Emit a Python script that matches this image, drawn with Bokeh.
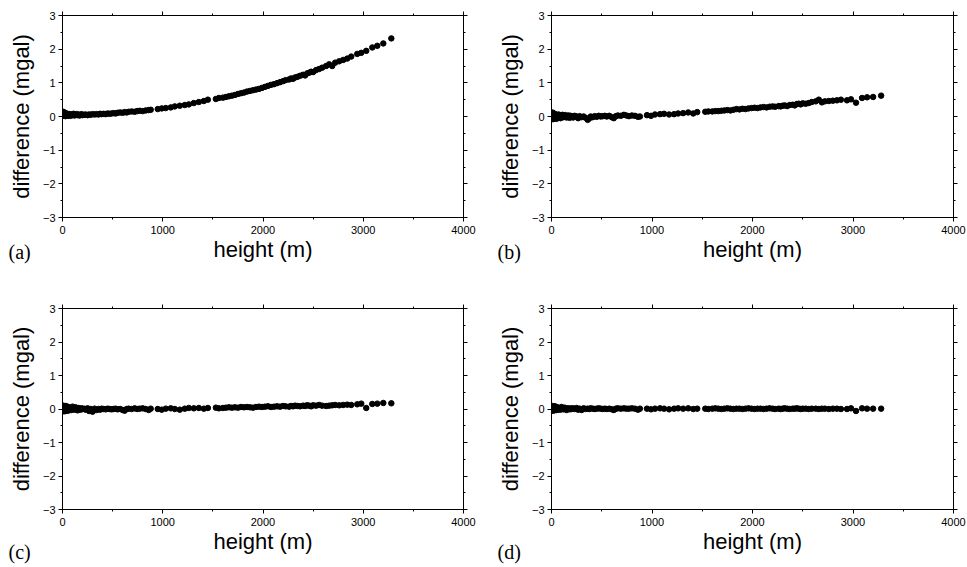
from bokeh.plotting import figure
from bokeh.layouts import column, row
from bokeh.models import LinearAxis, SingleIntervalTicker, Title, ColumnDataSource
from bokeh.embed import file_html
from bokeh.resources import INLINE

# station heights (m), shared by all panels
height_m = [5, 8, 10, 12, 15, 18, 20, 22, 25, 28, 30, 35, 40, 45, 50, 55, 60, 65, 70, 80,
            90, 100, 110, 120, 130, 140, 150, 160, 170, 180, 190, 200,
            215, 230, 250, 265, 280, 300, 320, 340, 360, 375, 390, 410, 430, 450, 470, 490,
            510, 530, 550, 575, 600, 620, 640, 660, 690, 720, 745, 770, 800, 830, 860, 880,
            950, 990, 1030, 1080, 1120, 1170, 1220, 1260, 1310, 1360, 1410, 1450,
            1530, 1560, 1600, 1630, 1660, 1690, 1720, 1750, 1780, 1810, 1840, 1870, 1900,
            1930, 1960, 1990, 2020, 2050, 2080, 2110, 2140, 2170, 2200, 2225,
            2260, 2280, 2300, 2320, 2345, 2370, 2400, 2420, 2440, 2460, 2480, 2500, 2530, 2560, 2590,
            2630, 2660, 2690, 2720, 2760, 2800, 2840, 2880,
            2940, 2980, 3030, 3090, 3140, 3200, 3280]

diff_a = [0.10, 0.14, 0.05, 0.12, 0.02, 0.08, 0.04, 0.11, 0.03, 0.07, 0.01, 0.09, 0.05, 0.02, 0.08, 0.04,
          0.06, 0.03, 0.07, 0.02, 0.06, 0.04, 0.08, 0.03, 0.05, 0.07, 0.04, 0.06, 0.03, 0.05, 0.07, 0.04,
          0.05, 0.06, 0.04, 0.06, 0.05, 0.07, 0.06, 0.07, 0.06, 0.08, 0.07, 0.08, 0.07, 0.09, 0.08, 0.09,
          0.10, 0.09, 0.11, 0.12, 0.11, 0.13, 0.12, 0.14, 0.15, 0.14, 0.16, 0.17, 0.16, 0.18, 0.19, 0.20,
          0.22, 0.24, 0.25, 0.27, 0.30, 0.32, 0.34, 0.36, 0.40, 0.43, 0.46, 0.50,
          0.52, 0.55, 0.56, 0.58, 0.60, 0.62, 0.64, 0.67, 0.69, 0.71, 0.74, 0.76, 0.78,
          0.80, 0.82, 0.85, 0.88, 0.91, 0.94, 0.96, 0.99, 1.02, 1.05, 1.08,
          1.10, 1.13, 1.12, 1.16, 1.18, 1.21, 1.24, 1.22, 1.28, 1.30, 1.33, 1.32, 1.38, 1.41, 1.45,
          1.50, 1.55, 1.50, 1.60, 1.64, 1.68, 1.72, 1.78,
          1.86, 1.89, 1.95, 2.05, 2.10, 2.17, 2.32]

diff_b = [0.08, 0.12, -0.05, 0.04, -0.08, 0.02, 0.06, -0.03, 0.09, -0.06, 0.03, 0.07, -0.02, 0.05, -0.07, 0.01,
          0.04, -0.04, 0.06, 0.00, -0.05, 0.03, 0.05, -0.02, 0.02, 0.04, -0.03, 0.01, 0.03, -0.04, 0.02, 0.00,
          -0.03, 0.02, 0.00, -0.05, 0.01, -0.02, 0.00, -0.04, -0.10, -0.06, 0.00, -0.02, 0.01, -0.01, 0.02, 0.00,
          0.01, 0.02, 0.00, 0.02, -0.02, -0.05, 0.01, 0.03, 0.02, 0.05, 0.03, 0.01, 0.03, 0.02, -0.01, 0.00,
          0.04, 0.02, 0.06, 0.07, 0.08, 0.06, 0.07, 0.09, 0.10, 0.12, 0.09, 0.13,
          0.14, 0.15, 0.15, 0.16, 0.16, 0.17, 0.18, 0.19, 0.18, 0.20, 0.22, 0.21, 0.23,
          0.22, 0.24, 0.25, 0.26, 0.25, 0.27, 0.28, 0.27, 0.29, 0.30, 0.29,
          0.31, 0.30, 0.32, 0.33, 0.31, 0.34, 0.35, 0.33, 0.37, 0.38, 0.36, 0.39, 0.38, 0.40, 0.43,
          0.45, 0.50, 0.42, 0.45, 0.46, 0.47, 0.48, 0.50,
          0.48, 0.51, 0.41, 0.55, 0.57, 0.58, 0.62]

diff_c = [0.06, 0.10, -0.05, 0.03, -0.07, 0.01, 0.08, -0.03, 0.05, -0.06, 0.02, 0.09, -0.02, 0.04, -0.05, 0.00,
          0.06, -0.04, 0.03, 0.01, -0.03, 0.07, 0.02, -0.02, 0.05, 0.00, -0.04, 0.03, 0.01, -0.02, 0.02, 0.00,
          0.01, -0.02, 0.02, -0.06, 0.00, -0.08, 0.01, -0.03, 0.00, -0.02, 0.01, 0.00, -0.01, 0.01, 0.00, -0.01,
          0.00, 0.01, -0.01, 0.00, -0.03, -0.05, 0.00, 0.01, 0.00, 0.02, 0.00, 0.01, 0.02, 0.00, -0.03, 0.01,
          0.00, -0.02, 0.01, 0.02, 0.00, -0.02, 0.01, 0.03, 0.02, 0.03, 0.01, 0.03,
          0.04, 0.02, 0.03, 0.04, 0.05, 0.04, 0.05, 0.04, 0.06, 0.05, 0.06, 0.05, 0.04,
          0.06, 0.07, 0.06, 0.07, 0.08, 0.06, 0.07, 0.08, 0.07, 0.09, 0.08,
          0.07, 0.09, 0.08, 0.10, 0.09, 0.08, 0.10, 0.09, 0.11, 0.10, 0.08, 0.11, 0.10, 0.12, 0.10,
          0.09, 0.10, 0.11, 0.12, 0.11, 0.12, 0.13, 0.12,
          0.14, 0.16, 0.03, 0.15, 0.16, 0.18, 0.17]

diff_d = [0.05, 0.09, -0.03, 0.02, -0.05, 0.01, 0.07, -0.02, 0.04, -0.04, 0.02, 0.08, -0.01, 0.03, -0.03, 0.00,
          0.05, -0.02, 0.03, 0.01, -0.02, 0.06, 0.02, -0.01, 0.04, 0.00, -0.03, 0.02, 0.01, -0.01, 0.02, 0.00,
          0.02, 0.00, 0.03, -0.02, 0.01, -0.03, 0.02, 0.00, 0.01, 0.00, 0.02, 0.01, 0.00, 0.01, 0.02, 0.01,
          0.00, 0.01, 0.00, 0.01, -0.01, -0.03, 0.01, 0.02, 0.01, 0.02, 0.01, 0.01, 0.02, 0.01, -0.02, 0.01,
          0.01, -0.01, 0.01, 0.02, 0.01, -0.01, 0.01, 0.02, 0.01, 0.02, 0.00, 0.01,
          0.01, 0.00, 0.01, 0.02, 0.01, 0.00, 0.01, 0.02, 0.01, 0.00, 0.01, 0.01, 0.00,
          0.01, 0.02, 0.01, 0.00, 0.01, 0.01, 0.00, 0.01, 0.02, 0.01, 0.00,
          0.01, 0.00, 0.01, 0.02, 0.01, 0.00, 0.01, 0.01, 0.02, 0.01, 0.00, 0.01, 0.01, 0.00, 0.01,
          0.01, 0.00, 0.01, 0.01, 0.00, 0.01, 0.01, 0.00,
          0.00, 0.02, -0.06, 0.02, 0.01, 0.01, 0.01]

panel_tags = ["(a)", "(b)", "(c)", "(d)"]
x_label = "height (m)"
y_label = "difference (mgal)"

SANS = "Liberation Sans"
SERIF = "Liberation Serif"


def style_axis(ax, show_labels=True):
    ax.axis_line_color = "black"
    ax.axis_line_width = 1
    ax.major_tick_line_color = "black"
    ax.minor_tick_line_color = "black"
    ax.major_tick_out = 4
    ax.major_tick_in = 0
    ax.minor_tick_out = 2
    ax.minor_tick_in = 0
    if show_labels:
        ax.major_label_text_font = SANS
        ax.major_label_text_font_size = "11px"
        ax.major_label_text_color = "black"
    else:
        ax.major_label_text_font_size = "0px"
        ax.major_label_text_color = None
        ax.major_label_standoff = 0


def make_panel(ydata, tag, width, height, bl, br, bt, bb, tag_standoff):
    p = figure(width=width, height=height, x_range=(0, 4000), y_range=(-3, 3),
               output_backend="svg", toolbar_location=None,
               min_border_left=bl, min_border_right=br, min_border_top=bt, min_border_bottom=bb,
               x_axis_label=x_label, y_axis_label=y_label)
    p.grid.visible = False
    p.outline_line_color = "black"
    p.outline_line_width = 1
    p.background_fill_color = "white"
    p.border_fill_color = "white"

    p.xaxis.ticker = SingleIntervalTicker(interval=1000, num_minor_ticks=2)
    p.yaxis.ticker = SingleIntervalTicker(interval=1, num_minor_ticks=2)
    for ax in p.xaxis + p.yaxis:
        style_axis(ax)
        ax.axis_label_text_font = SANS
        ax.axis_label_text_font_size = "22px"
        ax.axis_label_text_font_style = "normal"
        ax.axis_label_text_color = "black"
    p.xaxis.major_label_standoff = 4
    p.xaxis.axis_label_standoff = 0
    p.yaxis.major_label_standoff = 3
    p.yaxis.axis_label_standoff = 6

    top = LinearAxis(ticker=SingleIntervalTicker(interval=1000, num_minor_ticks=2))
    style_axis(top, show_labels=False)
    p.add_layout(top, "above")
    right = LinearAxis(ticker=SingleIntervalTicker(interval=1, num_minor_ticks=2))
    style_axis(right, show_labels=False)
    p.add_layout(right, "right")

    src = ColumnDataSource(dict(x=height_m, y=ydata))
    p.scatter("x", "y", source=src, size=5.5, color="black")

    p.add_layout(Title(text=tag, align="left", offset=-54, standoff=tag_standoff,
                       vertical_align="top", text_font=SERIF, text_font_size="20px",
                       text_font_style="normal", text_color="black"), "below")
    return p


pa = make_panel(diff_a, panel_tags[0], 489, 283, 62, 26, 15, 66, -48)
pb = make_panel(diff_b, panel_tags[1], 478, 283, 62, 14, 15, 66, -48)
pc = make_panel(diff_c, panel_tags[2], 489, 284, 62, 26, 25, 58, -32)
pd = make_panel(diff_d, panel_tags[3], 478, 284, 62, 14, 25, 58, -32)

layout = column(row(pa, pb), row(pc, pd))

open("out.html", "w").write(file_html(layout, INLINE))
